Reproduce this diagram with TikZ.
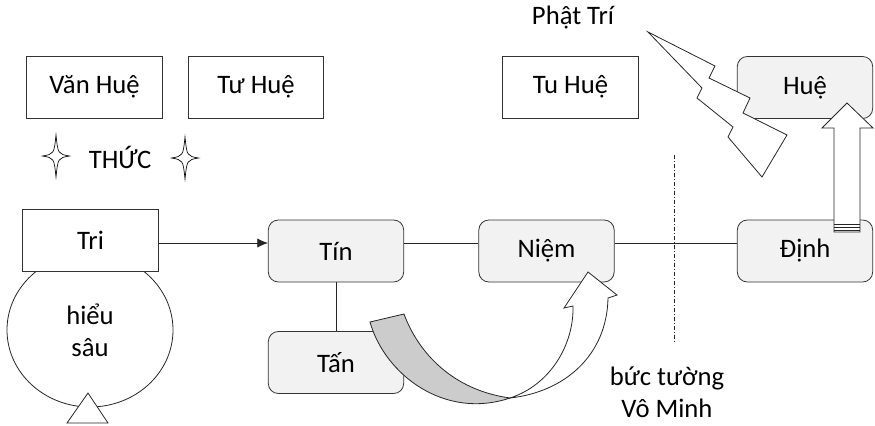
\documentclass[tikz,border=0pt]{standalone}
\usepackage{fontspec}
\setmainfont{Carlito}
\usetikzlibrary{arrows.meta,shapes.geometric}
\begin{document}
\begin{tikzpicture}
	[x=0.75pt,y=-0.75pt,font=\fontsize{20}{24}\selectfont,
	plainbox/.style={draw=black!80,line width=0.6pt,fill=white,minimum width=101.5pt,minimum height=46.5pt,inner sep=0pt},
	stagebox/.style={plainbox,rounded corners=7.5pt,fill=black!5},
	link/.style={draw=black!85,line width=0.6pt},
	sparkle/.pic={\draw[line width=0.5pt,fill=white] (0,-21) .. controls (2,-2) .. (13.5,0) .. controls (2,2) .. (0,21) .. controls (-2,2) .. (-13.5,0) .. controls (-2,-2) .. cycle;},
	>={Latex[length=8pt,width=7pt]}]
	\useasboundingbox (0,0) rectangle (875,425);
	\node[plainbox,name=vanhue] at (94.5,87) {Văn Huệ};
	\node[plainbox,name=tuhue] at (256,87) {Tư Huệ};
	\node[plainbox,name=tuhueb] at (570.5,87) {Tu Huệ};
	\node[stagebox,name=hue] at (805,87.5) {Huệ};
	\node[name=thuc] at (120,157) {THỨC};
	\pic at (56,156) {sparkle};
	\pic at (185,158) {sparkle};
	\node[name=phattri] at (573,18) {Phật Trí};
	\draw[link,fill=white] (648,32) -- (715,66) -- (709,78) -- (750,98) -- (743,113) -- (787,135) -- (762,177) -- (728,137) -- (733,127) -- (697,98) -- (702,88) -- cycle;
	\node[draw=black!85,line width=0.6pt,ellipse,minimum width=124.5pt,minimum height=115.5pt,align=center,name=hieusau] at (90,330) {hiểu\\sâu};
	\draw[link,fill=white] (88,393) -- (108,423) -- (67,423) -- cycle;
	\node[plainbox,name=tri] at (90.5,240.5) {Tri};
	\node[stagebox,name=tin] at (336,251) {Tín};
	\node[stagebox,name=niem] at (546.5,251) {Niệm};
	\node[stagebox,name=dinh] at (805,251) {Định};
	\node[stagebox,name=tan] at (336,362.5) {Tấn};
	\coordinate (rail) at (0,243);
	\draw[link,->] (tri.east |- rail) -- (tin.west |- rail);
	\draw[link] (tin.east |- rail) -- (niem.west |- rail);
	\draw[link] (niem.east |- rail) -- (dinh.west |- rail);
	\draw[link] (tin.south) -- (tan.north);
	\draw[link,dash pattern=on 3pt off 1.5pt on 0.75pt off 1.5pt] (674,155) -- (674,342);
	\node[align=center,name=wall] at (667,392) {bức tường\\Vô Minh};
	\draw[link,fill=white] (834,232) -- (834,128) -- (822,128) -- (847,103) -- (873,128) -- (860,128) -- (860,232) -- cycle;
	\foreach \y in {224,227,230} \draw[link] (834,\y) -- (860,\y);
	\draw[link,fill=black!20] (370,322) .. controls (385,375) and (445,420) .. (510,398) .. controls (452,390) and (418,352) .. (404,314) -- cycle;
	\draw[link,fill=white] (510,398) .. controls (565,392) and (607,355) .. (608,298) -- (617,295) -- (588,272) -- (564,308) -- (573,306) .. controls (574,345) and (550,385) .. (510,398) -- cycle;
\end{tikzpicture}
\end{document}
